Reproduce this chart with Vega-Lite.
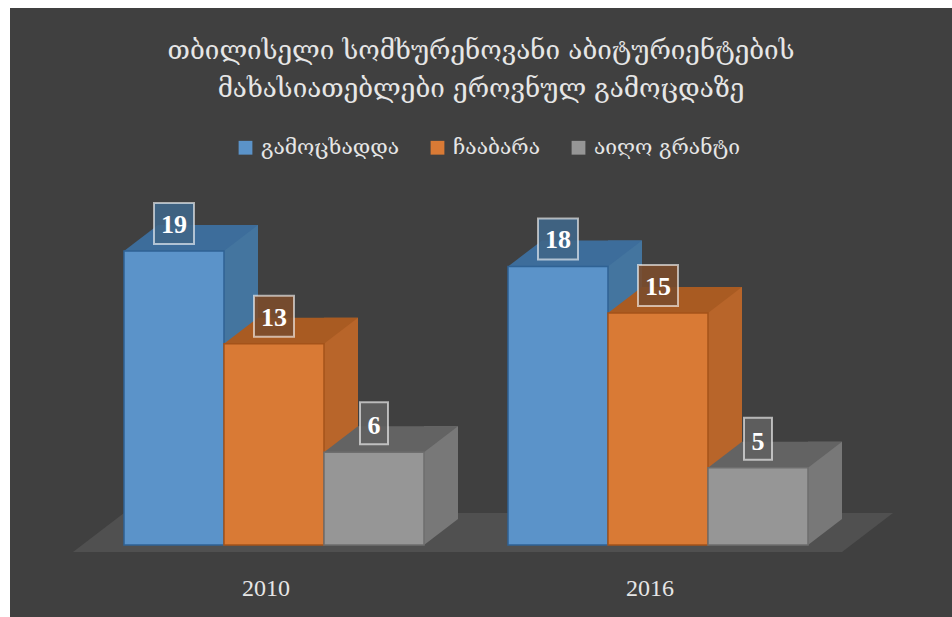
{
"$schema":"https://vega.github.io/schema/vega-lite/v6.json",
"width":942,"height":609,
"autosize":{"type":"none"},
"padding":{"left":10,"top":8,"right":0,"bottom":0},
"background":"#ffffff",
"view":{"fill":"#404040","stroke":null},
"title":{"text":["თბილისელი სომხურენოვანი აბიტურიენტების","მახასიათებლები ეროვნულ გამოცდაზე"],"anchor":"middle","frame":"group","orient":"top","baseline":"top","offset":0,"dy":94,"dx":0,"font":"DejaVu Serif","fontSize":26,"fontWeight":"normal","color":"#e6e6e6","lineHeight":38},
"data":{"values":[
{"year":"2010","series":"გამოცხადდა","value":19},
{"year":"2010","series":"ჩააბარა","value":13},
{"year":"2010","series":"აიღო გრანტი","value":6},
{"year":"2016","series":"გამოცხადდა","value":18},
{"year":"2016","series":"ჩააბარა","value":15},
{"year":"2016","series":"აიღო გრანტი","value":5}
]},
"encoding":{
"x":{"field":"year","type":"nominal","title":null,"scale":{"range":[72,840],"paddingInner":0.21875,"paddingOuter":0.109375},"axis":{"orient":"bottom","offset":-41,"domain":false,"ticks":false,"labelAngle":0,"labelColor":"#e6e6e6","labelFont":"Liberation Serif","labelFontSize":24,"labelPadding":0,"labelOffset":-8,"grid":false}},
"xOffset":{"field":"series","type":"nominal","sort":["გამოცხადდა","ჩააბარა","აიღო გრანტი"],"scale":{"paddingInner":0,"paddingOuter":0}},
"y":{"field":"value","type":"quantitative","title":null,"scale":{"domain":[0,19],"range":[537,243],"nice":false,"zero":true},"axis":null}
},
"layer":[
{"data":{"values":[{"floor":0}]},"mark":{"type":"point","filled":true,"opacity":1,"size":4,"color":"#505050","shape":"M-408 7 L361 7 L412 -32 L-357 -32 Z"},
 "encoding":{"x":{"value":471},"xOffset":{"value":0},"y":{"field":"floor","type":"quantitative","scale":{"domain":[0,19],"range":[537,243],"nice":false}}}},
{"transform":[{"filter":"datum.series === 'გამოცხადდა'"}],"mark":{"type":"rule","strokeWidth":34,"yOffset":-26,"y2Offset":-26,"opacity":1,"color":"#44759f"},
 "encoding":{"y2":{"datum":0},"xOffset":{"value":117}}},
{"transform":[{"filter":"datum.series === 'ჩააბარა'"}],"mark":{"type":"rule","strokeWidth":34,"yOffset":-26,"y2Offset":-26,"opacity":1,"color":"#b8652a"},
 "encoding":{"y2":{"datum":0},"xOffset":{"value":217}}},
{"transform":[{"filter":"datum.series === 'აიღო გრანტი'"}],"mark":{"type":"rule","strokeWidth":34,"yOffset":-26,"y2Offset":-26,"opacity":1,"color":"#787878"},
 "encoding":{"y2":{"datum":0},"xOffset":{"value":317}}},
{"mark":{"type":"point","filled":true,"opacity":1,"size":4,"shape":"M50 0 L50 -26 L84 -26 Z"},
 "encoding":{"y":{"datum":0},"color":{"field":"series","type":"nominal","legend":null,"sort":["გამოცხადდა","ჩააბარა","აიღო გრანტი"],"scale":{"domain":["გამოცხადდა","ჩააბარა","აიღო გრანტი"],"range":["#44759f","#b8652a","#787878"]}}}},
{"mark":{"type":"point","filled":true,"opacity":1,"size":4,"shape":"M-50 0 L50 0 L84 -26 L-16 -26 Z"},
 "encoding":{"color":{"field":"series","type":"nominal","legend":null,"sort":["გამოცხადდა","ჩააბარა","აიღო გრანტი"],"scale":{"domain":["გამოცხადდა","ჩააბარა","აიღო გრანტი"],"range":["#3d6d9b","#a95b22","#636363"]}}}},
{"mark":{"type":"bar","opacity":1,"strokeWidth":1.5},
 "encoding":{"y2":{"datum":0},
 "color":{"field":"series","type":"nominal","sort":["გამოცხადდა","ჩააბარა","აიღო გრანტი"],"scale":{"domain":["გამოცხადდა","ჩააბარა","აიღო გრანტი"],"range":["#5b93c9","#d97a35","#969696"]},
  "legend":{"orient":"none","legendX":225,"legendY":129,"direction":"horizontal","columns":3,"title":null,"symbolType":"square","symbolSize":190,"symbolStrokeWidth":0,"labelColor":"#e6e6e6","labelFont":"DejaVu Serif","labelFontSize":21,"columnPadding":27,"labelOffset":5}},
 "stroke":{"field":"series","type":"nominal","legend":null,"scale":{"domain":["გამოცხადდა","ჩააბარა","აიღო გრანტი"],"range":["#2f6294","#a4531a","#6e6e6e"]}}}},
{"transform":[{"filter":"datum.value >= 10"}],"mark":{"type":"point","filled":true,"opacity":1,"fillOpacity":0.9,"stroke":"#ffffff","strokeOpacity":0.6,"strokeWidth":2,"size":4,"shape":"M-20 -48 L20 -48 L20 -7 L-20 -7 Z"},
 "encoding":{"fill":{"field":"series","type":"nominal","legend":null,"scale":{"domain":["გამოცხადდა","ჩააბარა","აიღო გრანტი"],"range":["#3f6688","#7b4d2c","#606060"]}}}},
{"transform":[{"filter":"datum.value < 10"}],"mark":{"type":"point","filled":true,"opacity":1,"fillOpacity":0.9,"stroke":"#ffffff","strokeOpacity":0.6,"strokeWidth":2,"size":4,"shape":"M-14 -50 L14 -50 L14 -8 L-14 -8 Z"},
 "encoding":{"fill":{"field":"series","type":"nominal","legend":null,"scale":{"domain":["გამოცხადდა","ჩააბარა","აიღო გრანტი"],"range":["#3f6688","#7b4d2c","#606060"]}}}},
{"mark":{"type":"text","dy":-26,"font":"Liberation Serif","fontSize":26,"fontWeight":"bold","color":"#ffffff","baseline":"middle","align":"center"},
 "encoding":{"text":{"field":"value","type":"quantitative"}}}
],
"resolve":{"scale":{"color":"independent"}}
}
